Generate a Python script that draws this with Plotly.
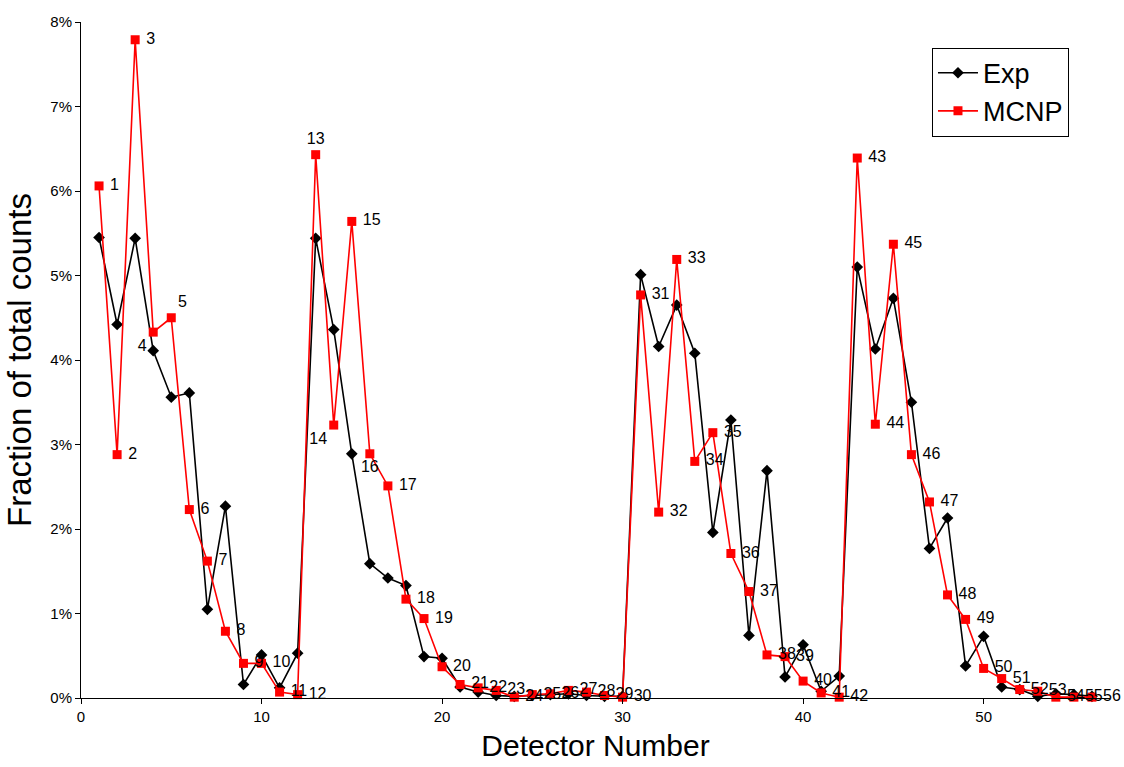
import plotly.graph_objects as go

detectors = list(range(1, 57))

exp_pct = [5.45, 4.42, 5.44, 4.11, 3.56, 3.61, 1.05, 2.27, 0.16, 0.51,
           0.12, 0.53, 5.44, 4.36, 2.89, 1.59, 1.42, 1.33, 0.49, 0.47,
           0.13, 0.07, 0.03, 0.02, 0.03, 0.04, 0.05, 0.03, 0.02, 0.02,
           5.01, 4.16, 4.65, 4.08, 1.96, 3.29, 0.74, 2.69, 0.25, 0.63,
           0.08, 0.26, 5.10, 4.13, 4.73, 3.50, 1.77, 2.13, 0.38, 0.73,
           0.13, 0.10, 0.02, 0.05, 0.04, 0.02]

mcnp_pct = [6.06, 2.88, 7.79, 4.33, 4.50, 2.23, 1.62, 0.79, 0.41, 0.41,
            0.07, 0.04, 6.43, 3.23, 5.64, 2.89, 2.51, 1.17, 0.94, 0.37,
            0.16, 0.12, 0.09, 0.01, 0.04, 0.05, 0.09, 0.07, 0.03, 0.01,
            4.77, 2.20, 5.19, 2.80, 3.14, 1.71, 1.26, 0.51, 0.49, 0.20,
            0.06, 0.01, 6.39, 3.24, 5.37, 2.88, 2.32, 1.22, 0.93, 0.35,
            0.23, 0.10, 0.08, 0.01, 0.01, 0.01]

x_ticks = [0, 10, 20, 30, 40, 50]
y_ticks = [0, 0.01, 0.02, 0.03, 0.04, 0.05, 0.06, 0.07, 0.08]
y_tick_labels = ["0%", "1%", "2%", "3%", "4%", "5%", "6%", "7%", "8%"]

exp_frac = [v / 100 for v in exp_pct]
mcnp_frac = [v / 100 for v in mcnp_pct]

# label placement (style)
special_pos = {4: "bottom left", 5: "top right", 13: "top center",
               14: "bottom left", 16: "bottom center"}
label_pos = [special_pos.get(d, "middle right") for d in detectors]
label_text = [" " + str(d) if special_pos.get(d) is None else str(d) for d in detectors]

FONT = "Liberation Sans, Arial, sans-serif"

fig = go.Figure()
fig.add_trace(go.Scatter(
    x=detectors, y=exp_frac, mode="lines+markers", name="Exp",
    line=dict(color="black", width=1.6),
    marker=dict(symbol="diamond", size=9, color="black"),
    cliponaxis=False,
))
fig.add_trace(go.Scatter(
    x=detectors, y=mcnp_frac, mode="lines+markers+text", name="MCNP",
    line=dict(color="#ff0000", width=1.6),
    marker=dict(symbol="square", size=9, color="#ff0000"),
    text=label_text, textposition=label_pos,
    textfont=dict(family=FONT, size=16, color="black"),
    cliponaxis=False,
))

fig.update_layout(
    width=1124, height=767,
    margin=dict(l=81, r=14, t=22, b=69),
    paper_bgcolor="white", plot_bgcolor="white",
    font=dict(family=FONT, color="black"),
    showlegend=True,
    legend=dict(
        x=0.827, y=0.962, xanchor="left", yanchor="top",
        bordercolor="black", borderwidth=1, bgcolor="white",
        font=dict(size=27, family=FONT), itemwidth=40,
        tracegroupgap=0,
    ),
    xaxis=dict(
        range=[0, 57], tickvals=x_ticks, ticks="outside", ticklen=5,
        tickcolor="black", showline=True, linecolor="black", linewidth=1,
        showgrid=False, zeroline=False, tickfont=dict(size=15),
        title=dict(text="Detector Number", font=dict(size=30), standoff=10),
    ),
    yaxis=dict(
        range=[0, 0.08], tickvals=y_ticks, ticktext=y_tick_labels,
        ticks="outside", ticklen=5, tickcolor="black", showline=True,
        linecolor="black", linewidth=1, showgrid=False, zeroline=False,
        tickfont=dict(size=15),
        title=dict(text="Fraction of total counts", font=dict(size=33), standoff=8),
    ),
)

fig.write_html("out.html")
